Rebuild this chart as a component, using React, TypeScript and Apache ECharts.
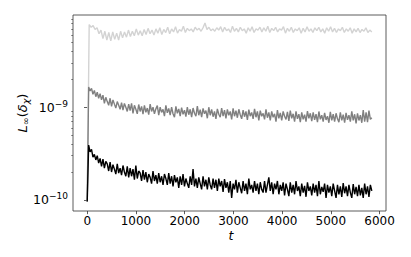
import React, { useEffect, useRef } from "react";
import * as echarts from "echarts";

// sample spacing of the time series (t units)
const T_STEP_DENSE = 29.35; // black and gray series
const T_STEP_LIGHT = 40.28; // light gray series

// values ×1e-10, black series
const blackE10 = [
  0.96, 3.9, 3.3, 3.5, 2.9, 3.1, 2.7, 3.0, 2.5, 2.8,
  2.3, 2.75, 2.2, 2.6, 2.45, 2.05, 2.55, 2.0, 2.4, 2.15,
  1.9, 2.45, 1.95, 2.2, 1.85, 2.35, 2.0, 1.8, 2.3, 1.75,
  2.2, 1.8, 2.15, 1.65, 2.35, 1.7, 2.05, 1.95, 1.6, 2.1,
  1.65, 2.0, 1.55, 1.9, 1.75, 1.5, 2.05, 1.6, 1.85, 1.5,
  1.95, 1.55, 1.8, 1.45, 1.9, 1.7, 1.45, 1.95, 1.5, 1.8,
  1.4, 1.85, 1.55, 1.75, 1.35, 1.8, 1.45, 1.9, 1.4, 1.7,
  1.5, 1.35, 1.8, 1.45, 2.15, 1.4, 1.7, 1.35, 1.75, 1.5,
  1.3, 1.8, 1.4, 1.65, 1.3, 1.75, 1.45, 1.3, 1.7, 1.35,
  1.65, 1.25, 1.7, 1.4, 1.6, 1.22, 1.68, 1.35, 1.55, 1.2,
  1.6, 1.05, 1.5, 1.3, 1.65, 1.2, 1.55, 1.35, 1.18, 1.6,
  1.25, 1.5, 1.15, 1.7, 1.3, 1.45, 1.2, 1.6, 1.25, 1.5,
  1.15, 1.55, 1.3, 1.2, 1.6, 1.2, 1.45, 1.75, 1.25, 1.55,
  1.15, 1.5, 1.3, 1.6, 1.15, 1.45, 1.25, 1.55, 1.12, 1.5,
  1.3, 1.1, 1.55, 1.2, 1.45, 1.15, 1.6, 1.25, 1.4, 1.1,
  1.5, 1.2, 1.42, 1.08, 1.55, 1.25, 1.4, 1.12, 1.5, 1.2,
  1.45, 1.1, 1.6, 1.15, 1.38, 1.22, 1.5, 1.05, 1.45, 1.2,
  1.4, 1.1, 1.5, 1.25, 1.05, 1.45, 1.15, 1.4, 1.08, 1.52,
  1.18, 1.4, 1.1, 1.45, 1.2, 1.05, 1.48, 1.15, 1.38, 1.1,
  1.45, 1.12, 1.35, 1.05, 1.5, 1.15, 1.4, 1.08, 1.45, 1.25,
];

// values ×1e-9, gray series
const grayE9 = [
  0.096, 1.65, 1.5, 1.6, 1.38, 1.52, 1.3, 1.45, 1.25, 1.4,
  1.2, 1.35, 1.1, 1.28, 1.15, 1.05, 1.25, 1.02, 1.2, 1.08,
  0.98, 1.15, 1.05, 0.95, 1.12, 0.93, 1.1, 1.0, 0.9, 1.08,
  0.92, 1.1, 0.86, 1.05, 0.95, 0.85, 1.07, 0.9, 1.02, 0.84,
  1.05, 0.88, 0.98, 0.83, 1.08, 0.9, 1.0, 0.85, 0.96, 1.04,
  0.82, 1.0, 0.88, 0.95, 0.8, 1.05, 0.87, 0.97, 0.82, 1.0,
  0.85, 0.78, 1.02, 0.86, 0.96, 0.8, 0.99, 0.84, 0.93, 0.79,
  1.0, 0.83, 0.95, 0.78, 0.98, 0.86, 0.8, 1.03, 0.82, 0.94,
  0.78, 0.97, 0.85, 0.92, 0.76, 1.0, 0.82, 0.95, 0.79, 0.9,
  0.75, 0.96, 0.84, 0.78, 0.98, 0.8, 0.93, 0.76, 0.95, 0.82,
  0.9, 0.74, 0.97, 0.8, 0.92, 0.77, 0.95, 0.83, 0.75, 0.93,
  0.79, 0.9, 0.73, 0.94, 0.8, 0.88, 0.75, 0.96, 0.78, 0.9,
  0.72, 0.92, 0.8, 0.86, 0.74, 0.95, 0.77, 0.88, 0.72, 0.9,
  0.78, 0.85, 0.7, 0.93, 0.76, 0.87, 0.72, 0.9, 0.8, 0.74,
  0.89, 0.71, 0.92, 0.76, 0.85, 0.7, 0.9, 0.75, 0.84, 0.69,
  0.88, 0.74, 0.83, 0.7, 0.91, 0.76, 0.86, 0.71, 0.88, 0.73,
  0.84, 0.69, 0.9, 0.74, 0.82, 0.7, 0.87, 0.73, 0.8, 0.68,
  0.89, 0.72, 0.84, 0.7, 0.86, 0.75, 0.69, 0.88, 0.72, 0.83,
  0.68, 0.87, 0.73, 0.82, 0.7, 0.9, 0.72, 0.84, 0.67, 0.86,
  0.72, 0.82, 0.68, 0.93, 0.7, 0.88, 0.69, 0.92, 0.74, 0.77,
];

// values ×1e-9, light gray series
const lightE9 = [
  0.096, 7.8, 7.3, 7.6, 6.9, 7.2, 6.2, 6.8, 5.5, 6.6, 5.3, 6.4, 5.2, 6.5, 5.4, 6.3, 5.3, 6.6, 5.6, 6.5,
  5.7, 6.8, 5.8, 6.6, 5.9, 7.0, 6.0, 6.7, 5.9, 6.9, 6.1, 7.1, 6.2, 6.8, 6.0, 7.0, 6.3, 7.2, 6.1, 6.9,
  6.4, 7.3, 6.2, 7.0, 6.5, 7.4, 6.3, 6.9, 6.6, 7.5, 6.4, 7.1, 6.7, 7.0, 6.5, 7.3, 6.8, 7.1, 6.6, 7.2,
  8.1, 6.9, 7.3, 6.7, 7.0, 6.6, 7.2, 6.8, 7.4, 6.5, 7.3, 6.7, 7.0, 6.4, 7.5, 6.6, 7.1, 6.5, 7.3, 6.7,
  7.0, 6.3, 7.2, 6.6, 7.4, 6.4, 7.0, 6.8, 7.3, 6.5, 7.2, 6.6, 7.5, 6.4, 7.1, 6.7, 7.3, 6.5, 7.0, 6.8,
  7.4, 6.3, 7.1, 6.6, 7.3, 6.4, 7.0, 6.7, 7.2, 6.3, 7.1, 6.5, 7.4, 6.6, 7.0, 6.4, 7.2, 6.7, 7.3, 6.5,
  7.0, 6.3, 7.2, 6.6, 7.4, 6.5, 7.1, 6.4, 7.0, 6.7, 7.3, 6.4, 7.0, 6.6, 7.2, 6.3, 7.0, 6.5, 7.1, 6.4,
  6.9, 6.6, 7.2, 6.4, 6.8, 6.5,
];

const xTicks = [0, 1000, 2000, 3000, 4000, 5000, 6000];
const yMajorTicks = [1e-10, 1e-9];
const yMinorTicks = [
  2e-10, 3e-10, 4e-10, 5e-10, 6e-10, 7e-10, 8e-10, 9e-10,
  2e-9, 3e-9, 4e-9, 5e-9, 6e-9, 7e-9, 8e-9, 9e-9,
];

const X_MIN = -292;
const X_MAX = 6132;
const Y_MIN = 7.59e-11;
const Y_MAX = 9.89e-9;

const toPairs = (vals: number[], unit: number, step: number) =>
  vals.map((v, i) => [i * step, v * unit]);

const FONT = "DejaVu Sans";

export default function App() {
  const ref = useRef<HTMLDivElement>(null);
  useEffect(() => {
    if (!ref.current) return;
    const chart = echarts.init(ref.current, undefined, { renderer: "svg" });
    const lineBase = { type: "line", showSymbol: false, symbol: "none", xAxisIndex: 0, yAxisIndex: 0 };
    chart.setOption({
      animation: false,
      grid: {
        left: 73,
        right: 25,
        top: 15,
        bottom: 46,
        show: true,
        borderColor: "#333",
        borderWidth: 0.8,
        backgroundColor: "transparent",
      },
      graphic: [
        {
          type: "text",
          x: 22,
          y: 113,
          rotation: Math.PI / 2,
          style: {
            text: "{i|L}{s|∞}{n|(}{i|δ}{s|χ}{n|)}",
            align: "center",
            verticalAlign: "middle",
            rich: {
              i: { fontFamily: FONT, fontSize: 13, fontStyle: "italic", fill: "#000", lineHeight: 17, verticalAlign: "middle" },
              n: { fontFamily: FONT, fontSize: 13, fill: "#000", lineHeight: 17, verticalAlign: "middle" },
              s: { fontFamily: FONT, fontSize: 9.5, fontStyle: "italic", fill: "#000", lineHeight: 10, verticalAlign: "bottom" },
            },
          },
        },
        {
          type: "text",
          x: 231,
          y: 235,
          style: {
            text: "t",
            align: "center",
            verticalAlign: "middle",
            fontFamily: FONT,
            fontSize: 12.5,
            fontStyle: "italic",
            fill: "#000",
          },
        },
      ],
      xAxis: {
        type: "value",
        min: X_MIN,
        max: X_MAX,
        axisLine: { show: false },
        axisTick: { show: true, length: 3.2, customValues: xTicks, lineStyle: { color: "#333", width: 0.8 } },
        axisLabel: {
          customValues: xTicks,
          margin: 4,
          fontFamily: FONT,
          fontSize: 12,
          color: "#000",
          formatter: (v: number) => String(v),
        },
        splitLine: { show: false },
      },
      yAxis: [
        {
          type: "log",
          logBase: 10,
          min: Y_MIN,
          max: Y_MAX,
          position: "left",
          axisLine: { show: false },
          axisTick: { show: true, length: 3.2, customValues: yMajorTicks, lineStyle: { color: "#333", width: 0.8 } },
          axisLabel: {
            customValues: yMajorTicks,
            margin: 5,
            formatter: (v: number) => {
              const e = Math.round(Math.log10(v));
              return `{b|10}{p|−${Math.abs(e)}}`;
            },
            rich: {
              b: { fontFamily: FONT, fontSize: 12.5, color: "#000", lineHeight: 16, verticalAlign: "middle" },
              p: { fontFamily: FONT, fontSize: 9, color: "#000", lineHeight: 9, verticalAlign: "top" },
            },
          },
          splitLine: { show: false },
          minorTick: { show: false },
        },
        {
          type: "log",
          logBase: 10,
          min: Y_MIN,
          max: Y_MAX,
          position: "left",
          axisLine: { show: false },
          axisTick: { show: true, length: 1.8, customValues: yMinorTicks, lineStyle: { color: "#333", width: 0.6 } },
          axisLabel: { show: false },
          splitLine: { show: false },
        },
      ],
      series: [
        { ...lineBase, name: "light", data: toPairs(lightE9, 1e-9, T_STEP_LIGHT), lineStyle: { color: "#d3d3d3", width: 1.4 } },
        { ...lineBase, name: "gray", data: toPairs(grayE9, 1e-9, T_STEP_DENSE), lineStyle: { color: "#808080", width: 1.4 } },
        { ...lineBase, name: "black", data: toPairs(blackE10, 1e-10, T_STEP_DENSE), lineStyle: { color: "#000000", width: 1.4 } },
      ],
    });
    return () => chart.dispose();
  }, []);
  return (
    <div
      ref={ref}
      style={{ position: "absolute", left: 0, top: 0, width: 411, height: 257, background: "#fff" }}
    />
  );
}
